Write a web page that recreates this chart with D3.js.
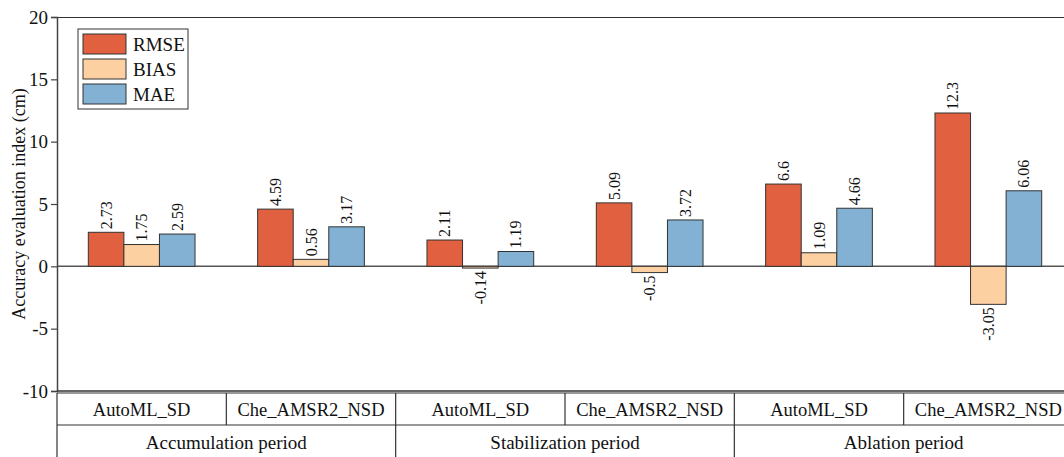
<!DOCTYPE html>
<html>
<head>
<meta charset="utf-8">
<script src="https://cdn.jsdelivr.net/npm/d3@7"></script>
<style>
  body { margin: 0; background: #fff; }
  text { font-family: "Liberation Serif", "Times New Roman", serif; fill: #111; }
</style>
</head>
<body>
<div id="container"></div>
<script>
// chart data
var periods = ["Accumulation period", "Stabilization period", "Ablation period"];
var products = ["AutoML_SD", "Che_AMSR2_NSD"];
var metrics = ["RMSE", "BIAS", "MAE"];
var rmse = [2.73, 4.59, 2.11, 5.09, 6.6, 12.3];
var bias = [1.75, 0.56, -0.14, -0.5, 1.09, -3.05];
var mae = [2.59, 3.17, 1.19, 3.72, 4.66, 6.06];
var colors = ["#e1603f", "#fdd0a2", "#82b1d3"];
var yTicks = [-10, -5, 0, 5, 10, 15, 20];

var width = 1064, height = 457;
var pLeft = 57, pRight = 1073, pTop = 17, pBottom = 391;

document.addEventListener('DOMContentLoaded', function(){
  var svg = d3.select("#container").append("svg")
    .attr("width", width).attr("height", height);

  // one slot per period x product
  var slots = [];
  periods.forEach(function(p, i){
    products.forEach(function(q, j){ slots.push({period: p, product: q, k: i*2 + j}); });
  });
  var series = [rmse, bias, mae];

  var x = d3.scaleBand().domain(d3.range(slots.length)).range([pLeft, pRight]);
  var xs = d3.scaleBand().domain(metrics).range([0, x.bandwidth()]).paddingOuter(0.88);
  var y = d3.scaleLinear().domain([-10, 20]).range([pBottom, pTop]);

  // top frame line
  svg.append("line").attr("x1", pLeft).attr("x2", width).attr("y1", pTop + 0.5).attr("y2", pTop + 0.5)
    .attr("stroke", "#333").attr("stroke-width", 1.2);

  // zero line
  svg.append("line").attr("x1", pLeft).attr("x2", width).attr("y1", y(0)).attr("y2", y(0))
    .attr("stroke", "#555").attr("stroke-width", 1.5);

  // bars
  var data = [];
  slots.forEach(function(s){
    metrics.forEach(function(m, mi){
      data.push({k: s.k, m: m, mi: mi, v: series[mi][s.k]});
    });
  });

  svg.selectAll("rect.bar").data(data).enter().append("rect")
    .attr("class", "bar")
    .attr("x", function(d){ return x(d.k) + xs(d.m); })
    .attr("width", xs.bandwidth())
    .attr("y", function(d){ return y(Math.max(0, d.v)); })
    .attr("height", function(d){ return Math.abs(y(d.v) - y(0)); })
    .attr("fill", function(d){ return colors[d.mi]; })
    .attr("stroke", "#333").attr("stroke-width", 1);

  // value labels, rotated
  svg.selectAll("text.val").data(data).enter().append("text")
    .attr("class", "val")
    .attr("transform", function(d){
      var cx = x(d.k) + xs(d.m) + xs.bandwidth()/2;
      var cy = d.v >= 0 ? y(d.v) - 3 : y(d.v) + 3;
      return "translate(" + (cx + 5.5) + "," + cy + ") rotate(-90)";
    })
    .attr("text-anchor", function(d){ return d.v >= 0 ? "start" : "end"; })
    .style("font-size", "16px")
    .text(function(d){ return d.v; });

  // y axis (plain hyphen minus like the original)
  var yAxis = d3.axisLeft(y).tickValues(yTicks).tickSize(6).tickPadding(3)
    .tickFormat(function(d){ return String(d); });
  var ga = svg.append("g").attr("transform", "translate(" + pLeft + ",0)").call(yAxis);
  ga.select(".domain").attr("stroke", "#444").attr("stroke-width", 1.5);
  ga.selectAll(".tick line").attr("stroke", "#444").attr("stroke-width", 1.2);
  ga.selectAll(".tick text").style("font-size", "19px").attr("fill", "#111")
    .style("font-family", '"Liberation Serif", serif');

  svg.append("text")
    .attr("transform", "translate(25," + ((pTop + pBottom)/2) + ") rotate(-90)")
    .attr("text-anchor", "middle")
    .style("font-size", "18px")
    .text("Accuracy evaluation index  (cm)");

  // category table under the plot
  var row1 = 393, row2 = 425;
  svg.append("line").attr("x1", pLeft).attr("x2", width).attr("y1", pBottom).attr("y2", pBottom)
    .attr("stroke", "#333").attr("stroke-width", 1.5);
  svg.append("line").attr("x1", pLeft).attr("x2", width).attr("y1", row1).attr("y2", row1)
    .attr("stroke", "#333").attr("stroke-width", 1.2);
  svg.append("line").attr("x1", pLeft).attr("x2", width).attr("y1", row2).attr("y2", row2)
    .attr("stroke", "#333").attr("stroke-width", 1.2);

  svg.selectAll("line.sv").data(d3.range(slots.length + 1)).enter().append("line")
    .attr("class", "sv")
    .attr("x1", function(i){ return i < slots.length ? x(i) : pRight; })
    .attr("x2", function(i){ return i < slots.length ? x(i) : pRight; })
    .attr("y1", row1).attr("y2", function(i){ return i % 2 === 0 ? height : row2; })
    .attr("stroke", "#333").attr("stroke-width", 1.2);

  svg.selectAll("text.prod").data(slots).enter().append("text")
    .attr("class", "prod")
    .attr("x", function(s){ return x(s.k) + x.bandwidth()/2; })
    .attr("y", 416)
    .attr("text-anchor", "middle")
    .style("font-size", "18.5px")
    .text(function(s){ return s.product; });

  svg.selectAll("text.per").data(periods).enter().append("text")
    .attr("class", "per")
    .attr("x", function(p, i){ return x(i*2) + x.bandwidth(); })
    .attr("y", 449)
    .attr("text-anchor", "middle")
    .style("font-size", "19px")
    .text(function(p){ return p; });

  // legend
  var lg = svg.append("g").attr("transform", "translate(78,29)");
  lg.append("rect").attr("width", 110).attr("height", 80)
    .attr("fill", "#fff").attr("stroke", "#333").attr("stroke-width", 1);
  metrics.forEach(function(m, i){
    lg.append("rect").attr("x", 5).attr("y", 5 + i*25).attr("width", 43).attr("height", 20)
      .attr("fill", colors[i]).attr("stroke", "#333").attr("stroke-width", 1);
    lg.append("text").attr("x", 55).attr("y", 22 + i*25)
      .style("font-size", "19px").text(m);
  });
});
</script>
</body>
</html>
